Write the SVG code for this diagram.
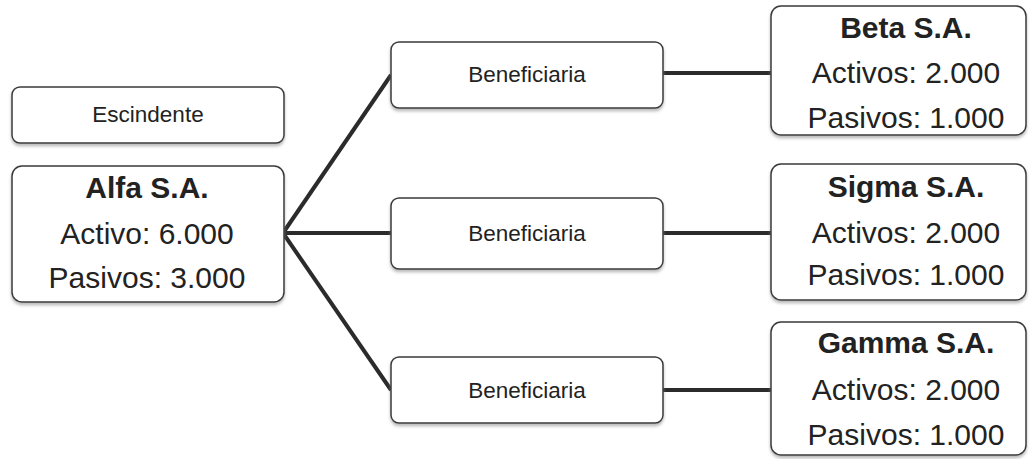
<svg xmlns="http://www.w3.org/2000/svg" width="1030" height="459" viewBox="0 0 1030 459">
  <defs>
    <filter id="shadow" x="-5%" y="-10%" width="110%" height="130%">
      <feDropShadow dx="0" dy="2.5" stdDeviation="1.5" flood-color="#8a8a8a" flood-opacity="0.6"/>
    </filter>
  </defs>
  <style>
    .box { fill: #ffffff; stroke: #3a3a3a; stroke-width: 1.5; filter: url(#shadow); }
    .small { font-family: "Liberation Sans", Arial, sans-serif; font-size: 22.5px; fill: #222; text-anchor: middle; }
    .big { font-family: "Liberation Sans", Arial, sans-serif; font-size: 30px; fill: #222; text-anchor: middle; }
    .title { font-weight: bold; }
    .link { stroke: #2b2b2b; stroke-width: 4; fill: none; stroke-linecap: butt; }
  </style>
  <rect width="1030" height="459" fill="#ffffff"/>

  <!-- connectors -->
  <g id="connectors">
    <path class="link" d="M283 233 L391 75"/>
    <path class="link" d="M283 233 L391 233"/>
    <path class="link" d="M283 233 L391 390"/>
    <path class="link" d="M663 73 L771 73"/>
    <path class="link" d="M663 233 L771 233"/>
    <path class="link" d="M663 390 L771 390"/>
  </g>

  <!-- splitting company -->
  <g id="escindente">
    <rect class="box" x="12" y="87" width="272" height="56" rx="8"/>
    <text class="small" x="148" y="122">Escindente</text>
  </g>
  <g id="alfa">
    <rect class="box" x="12" y="166" width="272" height="136" rx="10"/>
    <text class="big title" x="147" y="198">Alfa S.A.</text>
    <text class="big" x="147" y="244">Activo: 6.000</text>
    <text class="big" x="147" y="288">Pasivos: 3.000</text>
  </g>

  <!-- beneficiary placeholders -->
  <g id="beneficiaria-1">
    <rect class="box" x="391" y="42" width="272" height="66" rx="8"/>
    <text class="small" x="527" y="82">Beneficiaria</text>
  </g>
  <g id="beneficiaria-2">
    <rect class="box" x="391" y="198" width="272" height="71" rx="8"/>
    <text class="small" x="527" y="241">Beneficiaria</text>
  </g>
  <g id="beneficiaria-3">
    <rect class="box" x="391" y="357" width="272" height="66" rx="8"/>
    <text class="small" x="527" y="398">Beneficiaria</text>
  </g>

  <!-- resulting companies -->
  <g id="beta">
    <rect class="box" x="771" y="6" width="255" height="129" rx="10"/>
    <text class="big title" x="906" y="38">Beta S.A.</text>
    <text class="big" x="906" y="83">Activos: 2.000</text>
    <text class="big" x="906" y="128">Pasivos: 1.000</text>
  </g>
  <g id="sigma">
    <rect class="box" x="771" y="164" width="255" height="136" rx="10"/>
    <text class="big title" x="906" y="197">Sigma S.A.</text>
    <text class="big" x="906" y="243">Activos: 2.000</text>
    <text class="big" x="906" y="285">Pasivos: 1.000</text>
  </g>
  <g id="gamma">
    <rect class="box" x="771" y="322" width="255" height="133" rx="10"/>
    <text class="big title" x="906" y="353">Gamma S.A.</text>
    <text class="big" x="906" y="400">Activos: 2.000</text>
    <text class="big" x="906" y="445">Pasivos: 1.000</text>
  </g>
</svg>
